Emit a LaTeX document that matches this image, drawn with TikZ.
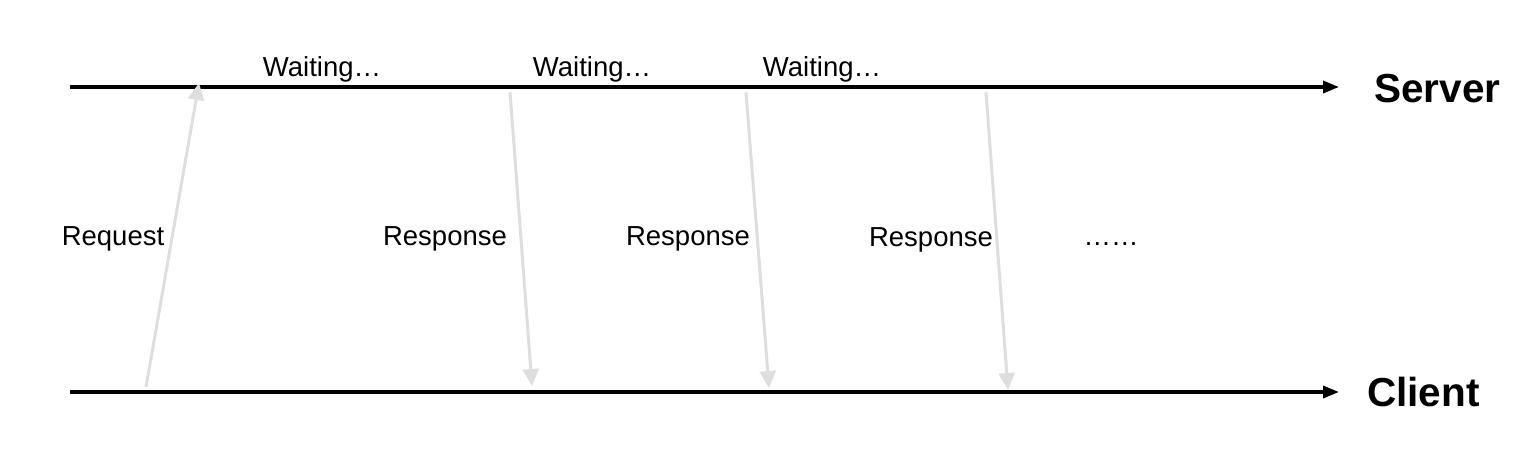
\documentclass[tikz,border=0pt]{standalone}
\usepackage{fontspec}
\setmainfont{Liberation Sans}
\usetikzlibrary{arrows.meta}
\begin{document}
\begin{tikzpicture}[x=1pt,y=-1pt,
  axis/.style={line width=3.4pt,-{Triangle[length=16pt,width=12pt]}},
  msg/.style={line width=3pt,color=black!13,-{Triangle[length=17pt,width=16pt]}},
  lbl/.style={font=\fontsize{27.5}{32}\selectfont,anchor=base,inner sep=0pt},
  big/.style={font=\fontsize{40.5}{46}\selectfont\bfseries,anchor=base west,inner sep=0pt}]
\useasboundingbox (0,0) rectangle (1534,466);
\coordinate (s0) at (70,87);
\coordinate (s1) at (1339,87);
\coordinate (c0) at (70,392);
\coordinate (c1) at (1339,392);
\draw[axis] (s0) -- (s1);
\draw[axis] (c0) -- (c1);
\node[big] (server) at (1374,102) {Server};
\node[big] (client) at (1367,406) {Client};
\coordinate (rq0) at (146,387);
\coordinate (rq1) at (199,83);
\draw[msg] (rq0) -- (rq1);
\coordinate (ra0) at (510,92);
\coordinate (ra1) at (532,386);
\coordinate (rb0) at (746,92);
\coordinate (rb1) at (769,388);
\coordinate (rc0) at (986,92);
\coordinate (rc1) at (1008,390);
\draw[msg] (ra0) -- (ra1);
\draw[msg] (rb0) -- (rb1);
\draw[msg] (rc0) -- (rc1);
\node[lbl] (w1) at (322,76) {Waiting…};
\node[lbl] (w2) at (592,76) {Waiting…};
\node[lbl] (w3) at (822,76) {Waiting…};
\node[lbl] (req) at (113,245) {Request};
\node[lbl] (r1) at (445,245) {Response};
\node[lbl] (r2) at (688,245) {Response};
\node[lbl] (r3) at (931,246) {Response};
\node[lbl] (dots) at (1111,245) {……};
\end{tikzpicture}
\end{document}
